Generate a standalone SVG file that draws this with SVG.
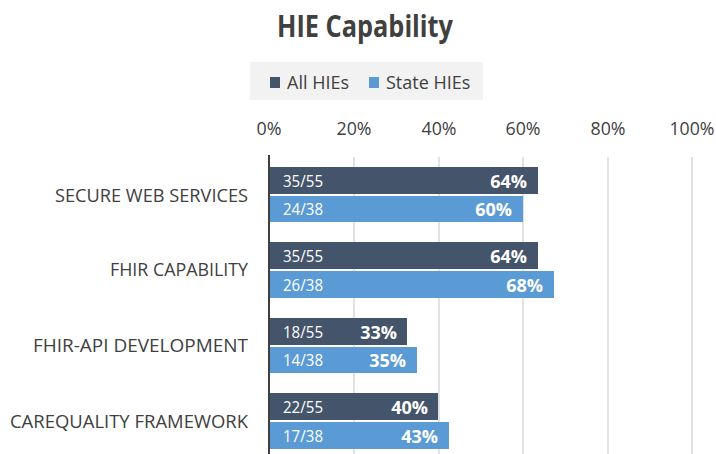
<svg xmlns="http://www.w3.org/2000/svg" width="716" height="454" viewBox="0 0 716 454">
<style>
.t{font-family:"Open Sans","Liberation Sans",sans-serif;fill:#404040}
.title{font-size:31px;font-weight:bold;fill:#404040}
.leg{font-size:18px;fill:#404040}
.ax{font-size:18px;fill:#404040;text-anchor:middle}
.cat{font-size:18px;fill:#404040;text-anchor:end}
.frac{font-size:16.5px;fill:#ffffff}
.pct{font-size:18px;font-weight:bold;fill:#ffffff;text-anchor:end}
.grid{stroke:#d9d9d9;stroke-width:1.5}
.dark{fill:#44546a}
.light{fill:#5b9bd5}
</style>
<rect width="716" height="454" fill="#ffffff"/>
<text class="t title" x="365" y="37" text-anchor="middle" textLength="176" lengthAdjust="spacingAndGlyphs">HIE Capability</text>
<g id="legend">
<rect x="250" y="62" width="233" height="38" fill="#f2f2f2"/>
<rect class="dark" x="270" y="77" width="10" height="11"/>
<text class="t leg" x="287" y="89">All HIEs</text>
<rect class="light" x="369" y="77" width="10" height="11"/>
<text class="t leg" x="386" y="89">State HIEs</text>
</g>
<g id="axis">
<text class="t ax" x="269" y="135" textLength="25" lengthAdjust="spacingAndGlyphs">0%</text>
<text class="t ax" x="354" y="135" textLength="35" lengthAdjust="spacingAndGlyphs">20%</text>
<text class="t ax" x="439" y="135" textLength="35" lengthAdjust="spacingAndGlyphs">40%</text>
<text class="t ax" x="523" y="135" textLength="35" lengthAdjust="spacingAndGlyphs">60%</text>
<text class="t ax" x="608" y="135" textLength="35" lengthAdjust="spacingAndGlyphs">80%</text>
<text class="t ax" x="692" y="135" textLength="45" lengthAdjust="spacingAndGlyphs">100%</text>
<line class="grid" x1="354" y1="157" x2="354" y2="454"/>
<line class="grid" x1="439" y1="157" x2="439" y2="454"/>
<line class="grid" x1="523" y1="157" x2="523" y2="454"/>
<line class="grid" x1="608" y1="157" x2="608" y2="454"/>
<line class="grid" x1="692" y1="157" x2="692" y2="454"/>
</g>
<g id="secure">
<text class="t cat" x="248" y="202" textLength="193" lengthAdjust="spacingAndGlyphs">SECURE WEB SERVICES</text>
<rect class="dark" x="270" y="167" width="268" height="27"/>
<rect class="light" x="270" y="196" width="253" height="26"/>
<text class="t frac" x="283" y="187" textLength="40" lengthAdjust="spacingAndGlyphs">35/55</text>
<text class="t pct" x="527" y="188">64%</text>
<text class="t frac" x="283" y="215" textLength="40" lengthAdjust="spacingAndGlyphs">24/38</text>
<text class="t pct" x="512" y="216">60%</text>
</g>
<g id="fhir">
<text class="t cat" x="248" y="276" textLength="138" lengthAdjust="spacingAndGlyphs">FHIR CAPABILITY</text>
<rect class="dark" x="270" y="242" width="268" height="27"/>
<rect class="light" x="270" y="271" width="284" height="27"/>
<text class="t frac" x="283" y="262" textLength="40" lengthAdjust="spacingAndGlyphs">35/55</text>
<text class="t pct" x="527" y="263">64%</text>
<text class="t frac" x="283" y="291" textLength="40" lengthAdjust="spacingAndGlyphs">26/38</text>
<text class="t pct" x="543" y="292">68%</text>
</g>
<g id="fhirapi">
<text class="t cat" x="248" y="352" textLength="215" lengthAdjust="spacingAndGlyphs">FHIR-API DEVELOPMENT</text>
<rect class="dark" x="270" y="318" width="137" height="27"/>
<rect class="light" x="270" y="347" width="147" height="26"/>
<text class="t frac" x="283" y="338" textLength="40" lengthAdjust="spacingAndGlyphs">18/55</text>
<text class="t pct" x="397" y="339">33%</text>
<text class="t frac" x="283" y="366" textLength="40" lengthAdjust="spacingAndGlyphs">14/38</text>
<text class="t pct" x="406" y="367">35%</text>
</g>
<g id="carequality">
<text class="t cat" x="248" y="428" textLength="238" lengthAdjust="spacingAndGlyphs">CAREQUALITY FRAMEWORK</text>
<rect class="dark" x="270" y="393" width="168" height="27"/>
<rect class="light" x="270" y="422" width="179" height="27"/>
<text class="t frac" x="283" y="413" textLength="40" lengthAdjust="spacingAndGlyphs">22/55</text>
<text class="t pct" x="428" y="414">40%</text>
<text class="t frac" x="283" y="442" textLength="40" lengthAdjust="spacingAndGlyphs">17/38</text>
<text class="t pct" x="438" y="443">43%</text>
</g>
<line x1="269" y1="155" x2="269" y2="454" stroke="#404040" stroke-width="2"/>
</svg>
